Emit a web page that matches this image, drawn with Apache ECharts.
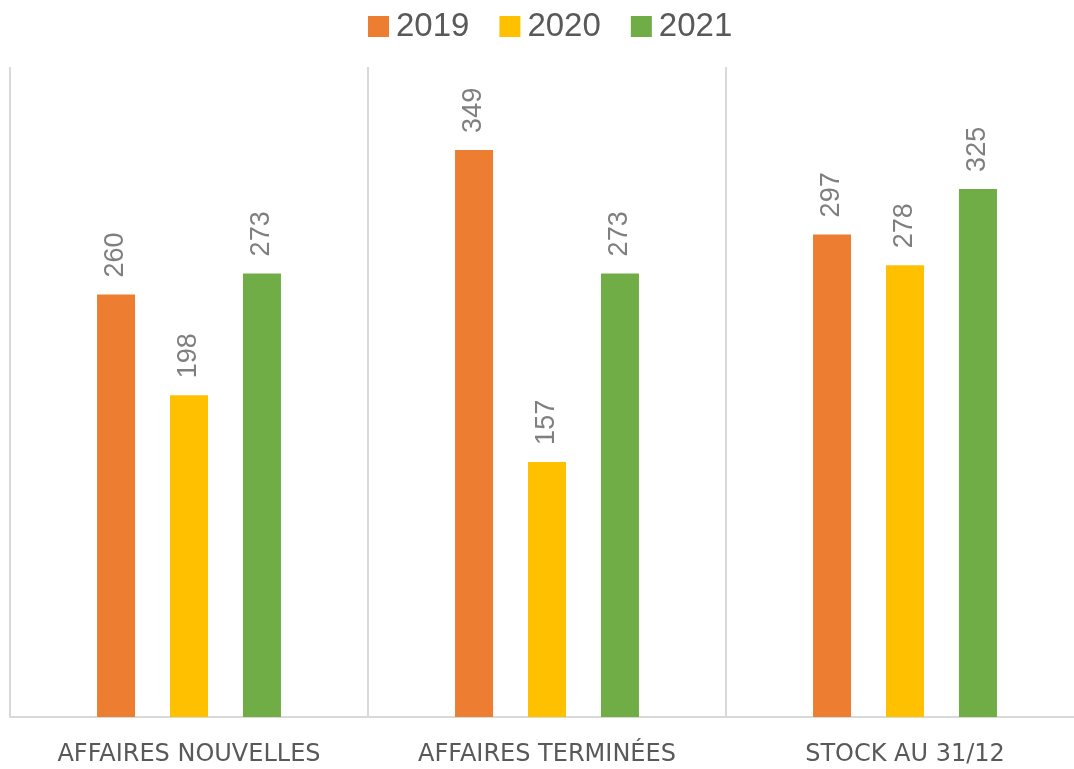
<!DOCTYPE html>
<html>
<head>
<meta charset="utf-8">
<script src="https://cdn.jsdelivr.net/npm/echarts@6/dist/echarts.min.js"></script>
<style>html,body{margin:0;padding:0;background:#fff}#c{width:1074px;height:769px}</style>
</head>
<body>
<div id="c"></div>
<script>
const categories = ["AFFAIRES NOUVELLES", "AFFAIRES TERMINÉES", "STOCK AU 31/12"];
const years = ["2019", "2020", "2021"];
const values2019 = [260, 349, 297];
const values2020 = [198, 157, 278];
const values2021 = [273, 273, 325];
const colors = ["#ED7D31", "#FFC000", "#70AD47"];

const chart = echarts.init(document.getElementById('c'), null, {renderer: 'canvas'});
const allValues = [values2019, values2020, values2021];
const series = years.map((y, i) => ({
  name: y,
  type: 'bar',
  data: allValues[i],
  barWidth: 38,
  barGap: '92%',
  itemStyle: {color: colors[i]},
  label: {
    show: true,
    position: 'top',
    rotate: 90,
    align: 'left',
    verticalAlign: 'middle',
    distance: 17,
    color: '#7F7F7F',
    fontSize: 27,
    fontFamily: 'Liberation Sans, Arial, sans-serif'
  }
}));
chart.setOption({
  animation: false,
  backgroundColor: '#fff',
  legend: {
    top: 5,
    left: 363,
    itemWidth: 21,
    itemHeight: 21,
    itemGap: 30,
    icon: 'rect',
    textStyle: {color: '#595959', fontSize: 33, fontFamily: 'Liberation Sans, Arial, sans-serif', padding: [0,0,0,2]},
    data: years
  },
  grid: {left: 10, right: -10, top: 67, bottom: 52, containLabel: false, outerBoundsMode: 'none'},
  xAxis: {
    type: 'category',
    data: categories,
    axisLine: {show: true, lineStyle: {color: '#D9D9D9', width: 2}},
    axisTick: {show: false},
    splitLine: {show: true, lineStyle: {color: '#D9D9D9', width: 2}},
    axisLabel: {color: '#595959', fontSize: 24, margin: 26, fontFamily: 'DejaVu Sans, sans-serif'}
  },
  yAxis: {
    type: 'value',
    min: 0,
    max: 400,
    show: false,
    splitLine: {show: false}
  },
  series: series
});
</script>
</body>
</html>
